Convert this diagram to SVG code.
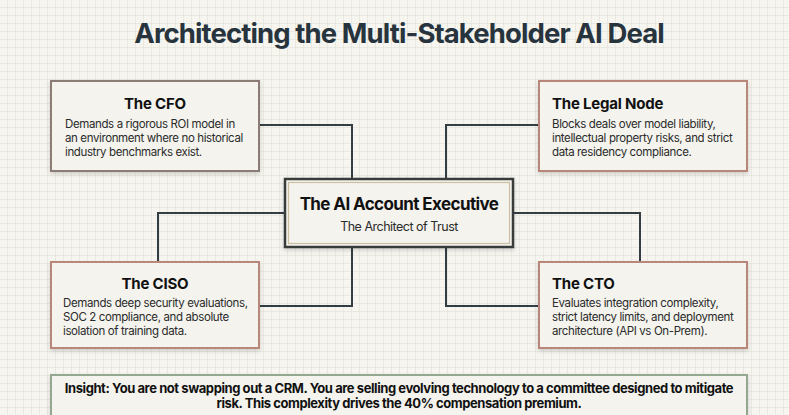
<svg xmlns="http://www.w3.org/2000/svg" width="789" height="415" viewBox="0 0 789 415">
  <defs>
    <pattern id="grid" width="8" height="8" patternUnits="userSpaceOnUse">
      <path d="M8 0V8M0 8H8" fill="none" stroke="#dcdcd4" stroke-width="1"/>
    </pattern>
    <filter id="sh" x="-10%" y="-10%" width="120%" height="130%">
      <feDropShadow dx="0" dy="2" stdDeviation="2" flood-color="#000" flood-opacity="0.16"/>
    </filter>
  </defs>
  <style>
    .box{fill:#f4f3ee;filter:url(#sh)}
    .head{font-family:Inter,"Liberation Sans",sans-serif;font-weight:700;font-size:15px;letter-spacing:-0.2px;fill:#111}
    .body{font-family:Inter,"Liberation Sans",sans-serif;font-size:11.5px;letter-spacing:-0.38px;fill:#2b2b2b}
    .ins{font-family:Inter,"Liberation Sans",sans-serif;font-weight:700;font-size:13px;letter-spacing:-0.43px;fill:#111}
    .conn{fill:none;stroke:#333d44;stroke-width:2}
  </style>
  <rect width="789" height="415" fill="#f6f5f0"/>
  <rect width="789" height="415" fill="url(#grid)"/>

  <text x="399" y="43" text-anchor="middle" font-family="Inter,'Liberation Sans',sans-serif" font-weight="700" font-size="27.5" letter-spacing="-0.9" fill="#27343d">Architecting the Multi-Stakeholder AI Deal</text>

  <g id="connectors">
    <path class="conn" d="M259 125H352V179"/>
    <path class="conn" d="M539 125H446V179"/>
    <path class="conn" d="M285 213H158V261"/>
    <path class="conn" d="M352 247V306H259"/>
    <path class="conn" d="M513 213H640V261"/>
    <path class="conn" d="M446 247V306H539"/>
  </g>

  <g id="cfo">
    <rect class="box" x="51" y="81" width="208" height="90" stroke="#8c7b76" stroke-width="2"/>
    <text class="head" x="155" y="109" text-anchor="middle">The CFO</text>
    <text class="body" x="65" y="128">Demands a rigorous ROI model in</text>
    <text class="body" x="65" y="142">an environment where no historical</text>
    <text class="body" x="65" y="156">industry benchmarks exist.</text>
  </g>

  <g id="legal">
    <rect class="box" x="539" y="81" width="208" height="90" stroke="#b8877a" stroke-width="2"/>
    <text class="head" x="552" y="109">The Legal Node</text>
    <text class="body" x="552" y="128">Blocks deals over model liability,</text>
    <text class="body" x="552" y="142">intellectual property risks, and strict</text>
    <text class="body" x="552" y="156">data residency compliance.</text>
  </g>

  <g id="ae">
    <rect class="box" x="285" y="179" width="228" height="68" stroke="#383c3a" stroke-width="2.5"/>
    <rect x="288.5" y="182.5" width="221" height="61" fill="none" stroke="#cbbf9f" stroke-width="1.2"/>
    <text x="399" y="210" text-anchor="middle" font-family="Inter,'Liberation Sans',sans-serif" font-weight="700" font-size="17" letter-spacing="-0.6" fill="#111">The AI Account Executive</text>
    <text x="399" y="231" text-anchor="middle" font-family="Inter,'Liberation Sans',sans-serif" font-size="12.5" letter-spacing="-0.5" fill="#2b2b2b">The Architect of Trust</text>
  </g>

  <g id="ciso">
    <rect class="box" x="51" y="262" width="208" height="86" stroke="#b8877a" stroke-width="2"/>
    <text class="head" x="155" y="289" text-anchor="middle">The CISO</text>
    <text class="body" x="63" y="307">Demands deep security evaluations,</text>
    <text class="body" x="63" y="321">SOC 2 compliance, and absolute</text>
    <text class="body" x="63" y="335">isolation of training data.</text>
  </g>

  <g id="cto">
    <rect class="box" x="539" y="262" width="208" height="86" stroke="#b8877a" stroke-width="2"/>
    <text class="head" x="552" y="289">The CTO</text>
    <text class="body" x="552" y="307">Evaluates integration complexity,</text>
    <text class="body" x="552" y="321">strict latency limits, and deployment</text>
    <text class="body" x="552" y="335">architecture (API vs On-Prem).</text>
  </g>

  <g id="insight">
    <rect class="box" x="51" y="375" width="696" height="50" stroke="#94a891" stroke-width="2"/>
    <text class="ins" x="399" y="393" text-anchor="middle">Insight: You are not swapping out a CRM. You are selling evolving technology to a committee designed to mitigate</text>
    <text class="ins" x="399" y="408" text-anchor="middle">risk. This complexity drives the 40% compensation premium.</text>
  </g>
</svg>
